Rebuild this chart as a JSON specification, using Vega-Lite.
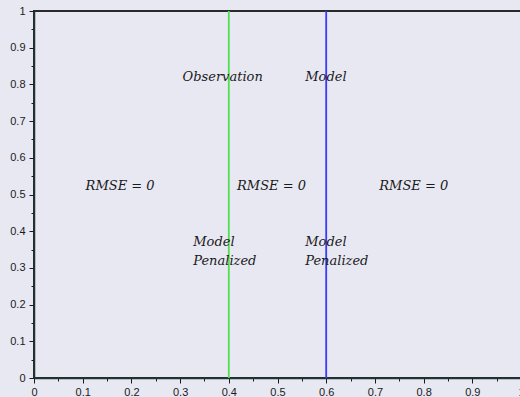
{
  "$schema": "https://vega.github.io/schema/vega-lite/v6.json",
  "autosize": {"type": "none"},
  "padding": {"left": 34, "top": 11, "right": 0, "bottom": 19},
  "width": 487,
  "height": 367,
  "background": "#e8e8f2",
  "config": {
    "view": {"fill": "#e8e8f2", "stroke": "#2a2a2a", "strokeWidth": 2},
    "axis": {
      "grid": false,
      "domainColor": "#1e3636",
      "domainWidth": 1.5,
      "tickColor": "#1a1a1a",
      "tickWidth": 1,
      "labelFont": "Liberation Sans",
      "labelFontSize": 11,
      "labelColor": "#1a1a1a",
      "title": null
    }
  },
  "layer": [
    {
      "data": {"values": [
        {"x": 0.4, "series": "Observation"},
        {"x": 0.6, "series": "Model"}
      ]},
      "mark": {"type": "rule", "strokeWidth": 1.8},
      "encoding": {
        "x": {
          "field": "x", "type": "quantitative",
          "scale": {"domain": [0, 1], "nice": false, "zero": false},
          "axis": {
            "values": [0,0.05,0.1,0.15,0.2,0.25,0.3,0.35,0.4,0.45,0.5,0.55,0.6,0.65,0.7,0.75,0.8,0.85,0.9,0.95,1],
            "format": "~g",
            "labelExpr": "round(datum.value*20)%2==0 ? datum.label : ''",
            "tickSize": {"condition": {"test": "round(datum.value*20)%2==1", "value": 3}, "value": 5},
            "labelPadding": 3,
            "labelFlush": false,
            "labelOverlap": false
          }
        },
        "y": {"datum": 0, "type": "quantitative",
          "scale": {"domain": [0, 1], "nice": false, "zero": false},
          "axis": {
            "values": [0,0.05,0.1,0.15,0.2,0.25,0.3,0.35,0.4,0.45,0.5,0.55,0.6,0.65,0.7,0.75,0.8,0.85,0.9,0.95,1],
            "format": "~g",
            "labelExpr": "round(datum.value*20)%2==0 ? datum.label : ''",
            "tickSize": {"condition": {"test": "round(datum.value*20)%2==1", "value": 3}, "value": 5},
            "labelPadding": 4,
            "labelFlush": false,
            "labelOverlap": false
          }
        },
        "y2": {"datum": 1},
        "color": {
          "field": "series", "type": "nominal",
          "scale": {"domain": ["Observation", "Model"], "range": ["#4fe04f", "#3a3aff"]},
          "legend": null
        }
      }
    },
    {
      "data": {"values": [
        {"x": 0.305, "y": 0.82, "label": "Observation"},
        {"x": 0.557, "y": 0.82, "label": "Model"},
        {"x": 0.106, "y": 0.523, "label": "RMSE = 0"},
        {"x": 0.417, "y": 0.523, "label": "RMSE = 0"},
        {"x": 0.709, "y": 0.523, "label": "RMSE = 0"},
        {"x": 0.327, "y": 0.371, "label": "Model"},
        {"x": 0.327, "y": 0.319, "label": "Penalized"},
        {"x": 0.557, "y": 0.371, "label": "Model"},
        {"x": 0.557, "y": 0.319, "label": "Penalized"}
      ]},
      "mark": {"type": "text", "align": "left", "baseline": "middle", "font": "DejaVu Serif", "fontStyle": "italic", "fontSize": 13, "color": "#1a1a1a"},
      "encoding": {
        "x": {"field": "x", "type": "quantitative",
          "axis": {
            "values": [0,0.05,0.1,0.15,0.2,0.25,0.3,0.35,0.4,0.45,0.5,0.55,0.6,0.65,0.7,0.75,0.8,0.85,0.9,0.95,1],
            "format": "~g",
            "labelExpr": "round(datum.value*20)%2==0 ? datum.label : ''",
            "tickSize": {"condition": {"test": "round(datum.value*20)%2==1", "value": 3}, "value": 5},
            "labelPadding": 3,
            "labelFlush": false,
            "labelOverlap": false
          }
        },
        "y": {"field": "y", "type": "quantitative",
          "axis": {
            "values": [0,0.05,0.1,0.15,0.2,0.25,0.3,0.35,0.4,0.45,0.5,0.55,0.6,0.65,0.7,0.75,0.8,0.85,0.9,0.95,1],
            "format": "~g",
            "labelExpr": "round(datum.value*20)%2==0 ? datum.label : ''",
            "tickSize": {"condition": {"test": "round(datum.value*20)%2==1", "value": 3}, "value": 5},
            "labelPadding": 4,
            "labelFlush": false,
            "labelOverlap": false
          }
        },
        "text": {"field": "label"}
      }
    }
  ]
}
